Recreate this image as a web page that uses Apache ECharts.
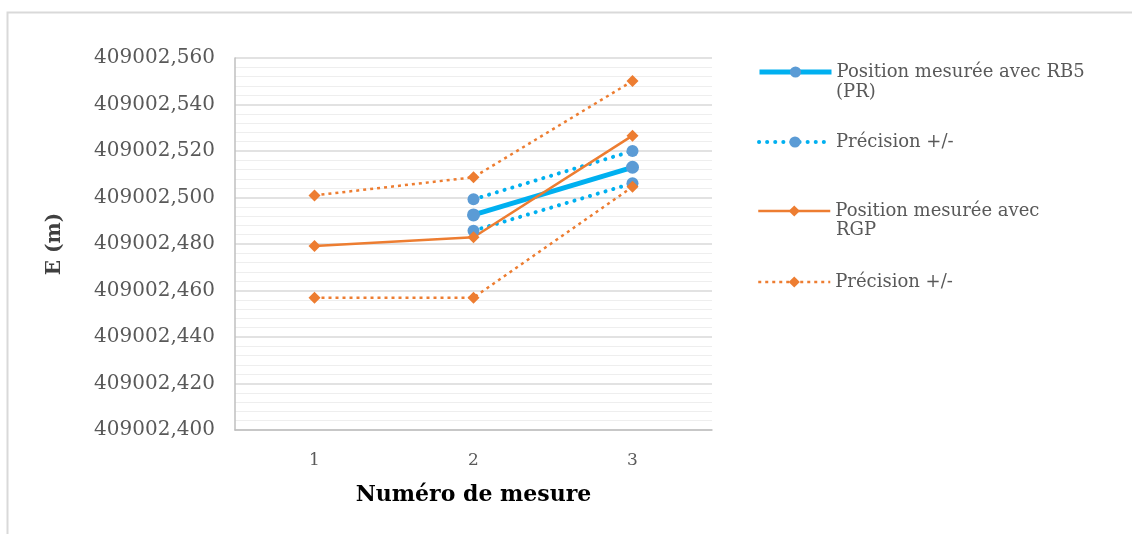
<!DOCTYPE html>
<html>
<head>
<meta charset="utf-8">
<script src="https://cdn.jsdelivr.net/npm/echarts@6/dist/echarts.min.js"></script>
<style>
  html, body { margin: 0; padding: 0; background: #fff; }
  #chart { width: 1132px; height: 534px; }
</style>
</head>
<body>
<div id="chart"></div>
<script>
// numéro de mesure
const categories = ["1", "2", "3"];

// position E (m) mesurée avec RB5 (PR), et précision +/-
const rb5 = [null, 409002.4925, 409002.513];
const rb5Upper = [null, 409002.4992, 409002.520];
const rb5Lower = [null, 409002.4857, 409002.5061];

// position E (m) mesurée avec RGP, et précision +/-
const rgp = [409002.4791, 409002.4829, 409002.5266];
const rgpUpper = [409002.5009, 409002.5087, 409002.5501];
const rgpLower = [409002.4569, 409002.4569, 409002.5046];

const yMin = 409002.4;
const yMax = 409002.56;
const yStep = 0.02;

const serif = "DejaVu Serif";
const blueLine = "#00b0f0";
const blueMark = "#5b9bd5";
const orange = "#ed7d31";

const legendText = {
  rb5: "Position mesurée avec RB5",
  rb5Prec: "Précision +/-",
  rgp: "Position mesurée avec",
  rgpPrec: "Précision +/-",
};

function legendAt(name, top) {
  return {
    data: [name],
    left: 752,
    top: top,
    orient: "vertical",
    itemWidth: 72,
    itemHeight: 14,
    selectedMode: false,
    lineStyle: { width: "inherit" },
    formatter: (n) => legendText[n],
    textStyle: { fontFamily: serif, fontSize: 18, color: "#595959", lineHeight: 26 },
  };
}

const blueDots = { color: blueLine, width: 4, type: [0.1, 8], cap: "round" };
const orangeDots = { color: orange, width: 2.5, type: [3, 4] };

const chart = echarts.init(document.getElementById("chart"));
chart.setOption({
  animation: false,
  backgroundColor: "#fff",
  grid: { left: 235, right: 420, top: 58, bottom: 104 },
  legend: [
    legendAt("rb5", 54),
    legendAt("rb5Prec", 124),
    legendAt("rgp", 193),
    legendAt("rgpPrec", 264),
  ],
  graphic: [
    {
      type: "rect",
      silent: true,
      shape: { x: 7.5, y: 12.5, width: 1200, height: 600 },
      style: { fill: "none", stroke: "#d9d9d9", lineWidth: 2 },
    },
    {
      type: "text",
      left: 836,
      top: 83,
      style: { text: "(PR)", fontFamily: serif, fontSize: 18, fill: "#595959" },
    },
    {
      type: "text",
      left: 836,
      top: 221,
      style: { text: "RGP", fontFamily: serif, fontSize: 18, fill: "#595959" },
    },
  ],
  xAxis: {
    type: "category",
    data: categories,
    name: "Numéro de mesure",
    nameLocation: "middle",
    nameGap: 54,
    nameTextStyle: { fontFamily: serif, fontSize: 22, fontWeight: "bold", color: "#000" },
    axisLine: { lineStyle: { color: "#bfbfbf", width: 1.5 } },
    axisTick: { show: false },
    axisLabel: { margin: 22, fontFamily: serif, fontSize: 17, color: "#595959" },
  },
  yAxis: {
    type: "value",
    min: yMin,
    max: yMax,
    interval: yStep,
    name: "E (m)",
    nameLocation: "middle",
    nameGap: 170,
    nameTextStyle: { fontFamily: serif, fontSize: 20, fontWeight: "bold", color: "#404040" },
    axisLine: { show: true, lineStyle: { color: "#bfbfbf", width: 1.5 } },
    axisTick: { show: false },
    axisLabel: {
      margin: 20,
      fontFamily: serif,
      fontSize: 20,
      color: "#595959",
      formatter: (v) => v.toFixed(3).replace(".", ","),
    },
    splitLine: { lineStyle: { color: "#d9d9d9", width: 1.5 } },
    minorTick: { show: false, splitNumber: 5 },
    minorSplitLine: { show: true, lineStyle: { color: "#eeeeee", width: 1 } },
  },
  series: [
    {
      name: "rb5Prec",
      type: "line",
      data: rb5Upper,
      symbol: "circle",
      symbolSize: 12,
      itemStyle: { color: blueMark },
      lineStyle: blueDots,
    },
    {
      name: "rb5Prec",
      type: "line",
      data: rb5Lower,
      symbol: "circle",
      symbolSize: 12,
      itemStyle: { color: blueMark },
      lineStyle: blueDots,
    },
    {
      name: "rb5",
      type: "line",
      data: rb5,
      symbol: "circle",
      symbolSize: 13,
      itemStyle: { color: blueMark },
      lineStyle: { color: blueLine, width: 5 },
    },
    {
      name: "rgpPrec",
      type: "line",
      data: rgpUpper,
      symbol: "diamond",
      symbolSize: 12,
      itemStyle: { color: orange },
      lineStyle: orangeDots,
    },
    {
      name: "rgpPrec",
      type: "line",
      data: rgpLower,
      symbol: "diamond",
      symbolSize: 12,
      itemStyle: { color: orange },
      lineStyle: orangeDots,
    },
    {
      name: "rgp",
      type: "line",
      data: rgp,
      symbol: "diamond",
      symbolSize: 12,
      itemStyle: { color: orange },
      lineStyle: { color: orange, width: 2.5 },
    },
  ],
});
</script>
</body>
</html>
